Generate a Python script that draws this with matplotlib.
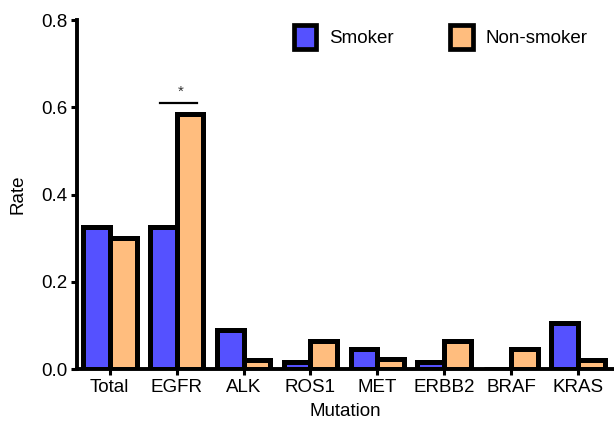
import matplotlib
matplotlib.use("Agg")
import matplotlib.pyplot as plt
import numpy as np
from matplotlib.patches import Patch

plt.rcParams['font.family'] = ['Liberation Sans', 'DejaVu Sans']

categories = ["Total", "EGFR", "ALK", "ROS1", "MET", "ERBB2", "BRAF", "KRAS"]
smoker = [0.325, 0.325, 0.09, 0.015, 0.045, 0.015, 0.0, 0.105]
non_smoker = [0.30, 0.585, 0.02, 0.065, 0.022, 0.065, 0.045, 0.02]

blue = "#5551ff"
orange = "#ffbd7e"
fs = 13.5

fig = plt.figure(figsize=(6.14, 4.24), dpi=100)
ax = fig.add_axes([0.1254, 0.1297, 0.8726, 0.8231])

x = np.arange(len(categories))
w = 0.40
lw = 3.6
ax.bar(x - w / 2, smoker, width=w, color=blue, edgecolor="black", linewidth=lw, zorder=2)
ax.bar(x + w / 2, non_smoker, width=w, color=orange, edgecolor="black", linewidth=lw, zorder=2)

ax.set_xlim(-0.49, 7.52)
ax.set_ylim(0, 0.8)
ax.set_yticks([0, 0.2, 0.4, 0.6, 0.8])
ax.set_yticklabels(["0.0", "0.2", "0.4", "0.6", "0.8"])
ax.set_xticks(x)
ax.set_xticklabels(categories)
ax.tick_params(axis="both", labelsize=fs, width=2.2, length=4, color="black", pad=3)
for s in ["top", "right"]:
    ax.spines[s].set_visible(False)
for s in ["left", "bottom"]:
    ax.spines[s].set_linewidth(2.8)
    ax.spines[s].set_zorder(3)

ax.set_xlabel("Mutation", fontsize=fs, labelpad=5)
ax.set_ylabel("Rate", fontsize=fs)
ax.yaxis.set_label_coords(-0.095, 0.5)

# significance marker over EGFR
ax.plot([1 - 0.25, 1 + 0.30], [0.61, 0.61], color="black", lw=1.6)
ax.text(1.06, 0.62, "*", ha="center", va="bottom", fontsize=11, color="#333333")

handles = [Patch(facecolor=blue, edgecolor="black", linewidth=3.4),
           Patch(facecolor=orange, edgecolor="black", linewidth=3.4)]
ax.legend(handles, ["Smoker", "Non-smoker"], loc="upper right", ncol=2, frameon=False,
          fontsize=fs, handlelength=1.2, handleheight=1.6, columnspacing=3.0,
          handletextpad=0.7, bbox_to_anchor=(0.985, 1.035))

fig.savefig("out.png", dpi=100)
